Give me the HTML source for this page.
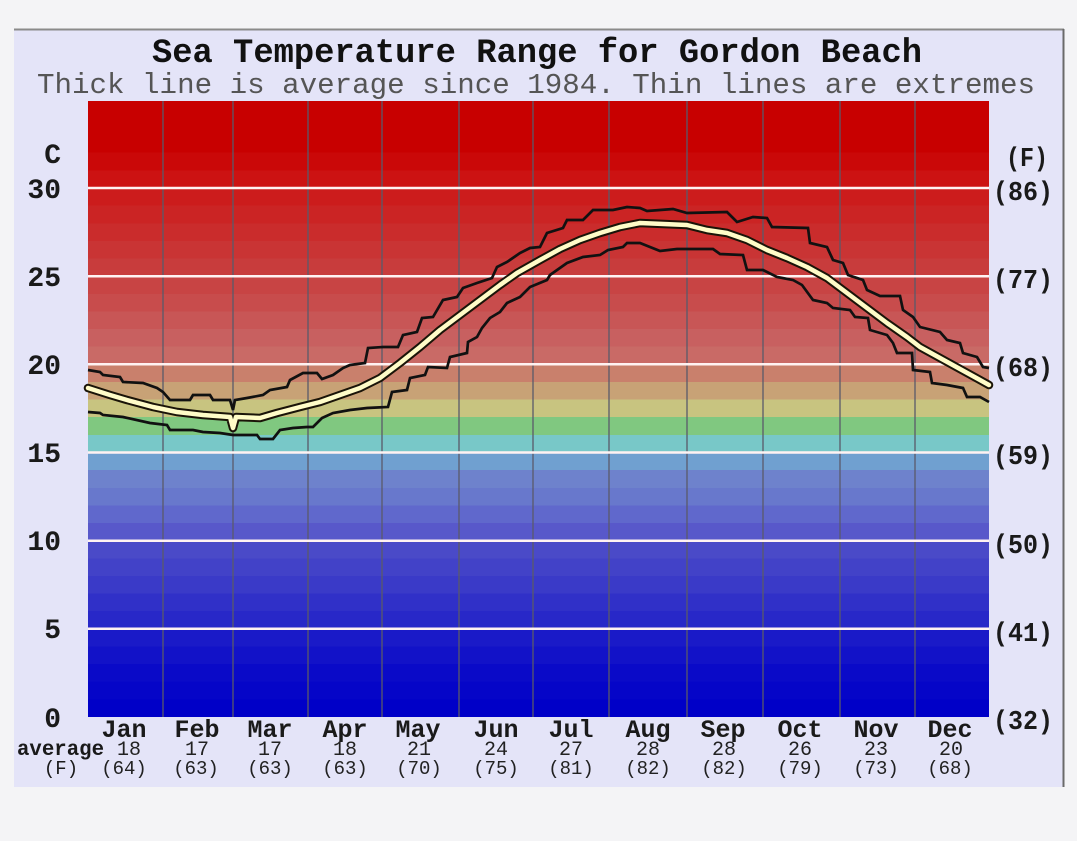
<!DOCTYPE html>
<html><head><meta charset="utf-8"><style>
html,body{margin:0;padding:0;background:#f4f4f6;width:1077px;height:841px;overflow:hidden}
svg{display:block}
</style></head><body>
<svg width="1077" height="841" viewBox="0 0 1077 841" xmlns="http://www.w3.org/2000/svg" font-family="'Liberation Mono', 'Courier New', monospace">
<rect x="0" y="0" width="1077" height="841" fill="#f4f4f6"/>
<rect x="14" y="29" width="1050" height="758" fill="#e4e4f8"/>
<line x1="14" y1="29.5" x2="1064" y2="29.5" stroke="#8a8a8a" stroke-width="2"/>
<line x1="1063.5" y1="29" x2="1063.5" y2="787" stroke="#6a6a6a" stroke-width="2"/>

<!-- title -->
<text x="152" y="62" font-size="34" font-weight="bold" fill="#111" textLength="770" lengthAdjust="spacingAndGlyphs">Sea Temperature Range for Gordon Beach</text>
<text x="37" y="93" font-size="29" fill="#555" textLength="998" lengthAdjust="spacingAndGlyphs">Thick line is average since 1984. Thin lines are extremes</text>

<!-- bands -->
<g shape-rendering="crispEdges">
<rect x="88" y="101" width="901" height="52" fill="#c80000"/>
<rect x="88" y="152.7" width="901" height="17.9" fill="#ca0808"/>
<rect x="88" y="170.4" width="901" height="17.9" fill="#cc1212"/>
<rect x="88" y="188" width="901" height="17.9" fill="#cc1c1c"/>
<rect x="88" y="205.6" width="901" height="17.9" fill="#cb2424"/>
<rect x="88" y="223.3" width="901" height="17.9" fill="#ca2c2c"/>
<rect x="88" y="240.9" width="901" height="17.9" fill="#c93434"/>
<rect x="88" y="258.5" width="901" height="17.9" fill="#c83c3c"/>
<rect x="88" y="276.2" width="901" height="17.9" fill="#c84444"/>
<rect x="88" y="293.8" width="901" height="17.9" fill="#c84c4c"/>
<rect x="88" y="311.4" width="901" height="17.9" fill="#c85656"/>
<rect x="88" y="329.1" width="901" height="17.9" fill="#c86060"/>
<rect x="88" y="346.7" width="901" height="17.9" fill="#c96a66"/>
<rect x="88" y="364.3" width="901" height="17.9" fill="#c9806c"/>
<rect x="88" y="382" width="901" height="17.9" fill="#c8a276"/>
<rect x="88" y="399.6" width="901" height="17.9" fill="#c8c480"/>
<rect x="88" y="417.2" width="901" height="17.9" fill="#80c880"/>
<rect x="88" y="434.9" width="901" height="17.9" fill="#78c8c8"/>
<rect x="88" y="452.5" width="901" height="17.9" fill="#70a0d0"/>
<rect x="88" y="470.1" width="901" height="17.9" fill="#6e82cc"/>
<rect x="88" y="487.8" width="901" height="17.9" fill="#6878cc"/>
<rect x="88" y="505.4" width="901" height="17.9" fill="#6068cc"/>
<rect x="88" y="523" width="901" height="17.9" fill="#5858ca"/>
<rect x="88" y="540.7" width="901" height="17.9" fill="#4a4ac8"/>
<rect x="88" y="558.3" width="901" height="17.9" fill="#4242c8"/>
<rect x="88" y="575.9" width="901" height="17.9" fill="#3a3ac8"/>
<rect x="88" y="593.6" width="901" height="17.9" fill="#3030c8"/>
<rect x="88" y="611.2" width="901" height="17.9" fill="#2828c8"/>
<rect x="88" y="628.8" width="901" height="17.9" fill="#1a1ac8"/>
<rect x="88" y="646.5" width="901" height="17.9" fill="#1212c8"/>
<rect x="88" y="664.1" width="901" height="17.9" fill="#0a0ac8"/>
<rect x="88" y="681.7" width="901" height="17.9" fill="#0505c8"/>
<rect x="88" y="699.4" width="901" height="17.6" fill="#0000c8"/>
</g>

<!-- vertical month lines -->
<g stroke="#5a5a6a" stroke-width="1.3">
<line x1="163" y1="101" x2="163" y2="717"/>
<line x1="233" y1="101" x2="233" y2="717"/>
<line x1="308" y1="101" x2="308" y2="717"/>
<line x1="382" y1="101" x2="382" y2="717"/>
<line x1="459" y1="101" x2="459" y2="717"/>
<line x1="533" y1="101" x2="533" y2="717"/>
<line x1="609" y1="101" x2="609" y2="717"/>
<line x1="687" y1="101" x2="687" y2="717"/>
<line x1="763" y1="101" x2="763" y2="717"/>
<line x1="840" y1="101" x2="840" y2="717"/>
<line x1="915" y1="101" x2="915" y2="717"/>
</g>

<!-- horizontal grid -->
<g stroke="#fff2f2" stroke-width="2.5">
<line x1="88" y1="188" x2="989" y2="188"/>
<line x1="88" y1="276.2" x2="989" y2="276.2"/>
<line x1="88" y1="364.3" x2="989" y2="364.3"/>
<line x1="88" y1="452.5" x2="989" y2="452.5"/>
<line x1="88" y1="540.7" x2="989" y2="540.7"/>
<line x1="88" y1="628.8" x2="989" y2="628.8"/>
</g>

<!-- extremes -->
<g fill="none" stroke="#111" stroke-width="2.7" stroke-linejoin="miter">
<polyline points="88,370 100,372 103,375 120,377 123,382 143,383 157,388 163,392 170,400 190,400 193,395 210,395 213,400 230,400 233,410 235,400 247,398 263,395 270,390 287,387 290,380 303,373 317,373 322,379 333,375 343,368 350,365 365,363 368,348 383,347 398,347 403,335 417,332 422,318 433,317 443,300 457,297 463,288 477,283 492,278 497,267 507,262 520,253 530,248 540,247 547,233 563,228 567,220 583,220 593,210 613,210 627,207 640,208 647,211 673,209 687,213 727,212 737,222 753,217 767,218 772,227 808,228 810,243 827,247 833,260 843,263 848,275 863,280 867,290 880,296 900,296 903,310 913,317 920,327 940,332 947,340 960,343 963,353 977,357 983,367 989,368"/>
<polyline points="88,412 100,413 103,415 123,417 150,423 167,425 170,430 193,430 203,432 220,433 233,435 257,435 260,439 273,439 280,430 293,428 307,427 313,427 322,418 333,413 350,410 367,408 388,407 392,392 407,390 410,378 425,375 428,367 447,368 450,357 467,353 468,342 477,337 482,328 490,318 500,312 507,303 520,297 530,287 547,280 550,275 567,263 583,257 600,255 608,250 623,247 627,243 640,243 650,247 660,251 677,249 713,249 720,254 743,255 747,270 763,270 777,277 793,280 802,285 813,300 827,303 833,308 850,310 855,317 868,318 870,330 887,335 893,343 897,353 912,353 913,370 930,372 932,383 947,385 963,388 967,397 980,397 989,402"/>
</g>

<!-- average -->
<g fill="none" stroke-linejoin="round" stroke-linecap="round">
<polyline stroke="#1a1408" stroke-width="8.5" points="88,388 110,395 127,400 153,407 177,412 203,415 230,417 233,428 236,417 260,418 277,413 300,407 320,402 340,395 360,388 380,378 400,363 420,347 440,330 460,315 480,300 500,285 517,273 540,260 560,249 580,240 600,233 620,227 640,223 687,225 707,230 727,233 747,240 767,250 787,258 807,267 827,278 847,293 867,308 887,323 907,337 920,347 940,358 960,369 980,380 989,385"/>
<polyline stroke="#fffcc8" stroke-width="4.5" points="88,388 110,395 127,400 153,407 177,412 203,415 230,417 233,428 236,417 260,418 277,413 300,407 320,402 340,395 360,388 380,378 400,363 420,347 440,330 460,315 480,300 500,285 517,273 540,260 560,249 580,240 600,233 620,227 640,223 687,225 707,230 727,233 747,240 767,250 787,258 807,267 827,278 847,293 867,308 887,323 907,337 920,347 940,358 960,369 980,380 989,385"/>
</g>

<!-- left axis labels -->
<g font-size="28" font-weight="bold" fill="#1a1a1a" text-anchor="end">
<text x="61" y="163">C</text>
<text x="61" y="198">30</text>
<text x="61" y="286">25</text>
<text x="61" y="374">20</text>
<text x="61" y="462">15</text>
<text x="61" y="550">10</text>
<text x="61" y="638">5</text>
<text x="61" y="727">0</text>
</g>

<!-- right axis labels -->
<g font-size="27" font-weight="bold" fill="#1a1a1a">
<text x="1006" y="166" textLength="42" lengthAdjust="spacingAndGlyphs">(F)</text>
<text x="993" y="200" textLength="60" lengthAdjust="spacingAndGlyphs">(86)</text>
<text x="993" y="288" textLength="60" lengthAdjust="spacingAndGlyphs">(77)</text>
<text x="993" y="376" textLength="60" lengthAdjust="spacingAndGlyphs">(68)</text>
<text x="993" y="464" textLength="60" lengthAdjust="spacingAndGlyphs">(59)</text>
<text x="993" y="553" textLength="60" lengthAdjust="spacingAndGlyphs">(50)</text>
<text x="993" y="641" textLength="60" lengthAdjust="spacingAndGlyphs">(41)</text>
<text x="993" y="729" textLength="60" lengthAdjust="spacingAndGlyphs">(32)</text>
</g>

<!-- month labels -->
<g font-size="25" font-weight="bold" fill="#1a1a1a" text-anchor="middle">
<text x="124" y="737">Jan</text>
<text x="197" y="737">Feb</text>
<text x="270" y="737">Mar</text>
<text x="345" y="737">Apr</text>
<text x="418" y="737">May</text>
<text x="496" y="737">Jun</text>
<text x="571" y="737">Jul</text>
<text x="648" y="737">Aug</text>
<text x="723" y="737">Sep</text>
<text x="800" y="737">Oct</text>
<text x="876" y="737">Nov</text>
<text x="950" y="737">Dec</text>
</g>

<text x="17" y="755" font-size="21" font-weight="bold" fill="#1a1a1a" textLength="87" lengthAdjust="spacingAndGlyphs">average</text>
<text x="61" y="774" font-size="19" fill="#1a1a1a" text-anchor="middle">(F)</text>

<g font-size="20" fill="#222" text-anchor="middle">
<text x="129" y="755">18</text>
<text x="197" y="755">17</text>
<text x="270" y="755">17</text>
<text x="345" y="755">18</text>
<text x="419" y="755">21</text>
<text x="496" y="755">24</text>
<text x="571" y="755">27</text>
<text x="648" y="755">28</text>
<text x="724" y="755">28</text>
<text x="800" y="755">26</text>
<text x="876" y="755">23</text>
<text x="951" y="755">20</text>
</g>
<g font-size="19" fill="#222" text-anchor="middle">
<text x="124" y="774">(64)</text>
<text x="196" y="774">(63)</text>
<text x="270" y="774">(63)</text>
<text x="345" y="774">(63)</text>
<text x="419" y="774">(70)</text>
<text x="496" y="774">(75)</text>
<text x="571" y="774">(81)</text>
<text x="648" y="774">(82)</text>
<text x="724" y="774">(82)</text>
<text x="800" y="774">(79)</text>
<text x="876" y="774">(73)</text>
<text x="950" y="774">(68)</text>
</g>
</svg>
</body></html>
